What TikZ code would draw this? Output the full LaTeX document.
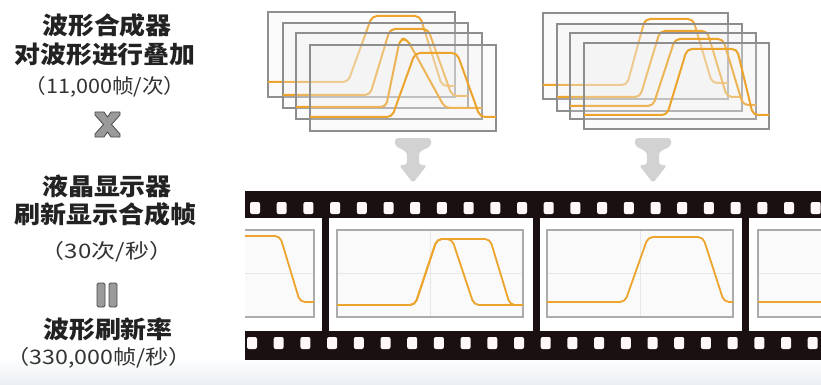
\documentclass[tikz,border=0pt]{standalone}
\usepackage{fontspec}
\setmainfont{Noto Sans CJK SC}
\definecolor{waveor}{HTML}{EDA42C}
\definecolor{boxgray}{HTML}{8E8E8E}
\definecolor{panelgray}{HTML}{ABABAB}
\definecolor{panelfill}{HTML}{FAFAFA}
\definecolor{gridgray}{HTML}{E6E6E6}
\definecolor{filmblack}{HTML}{1A1012}
\definecolor{holewhite}{HTML}{FFF8F8}
\definecolor{arrowgray}{HTML}{D2D2D2}
\definecolor{headcol}{HTML}{222222}
\definecolor{subcol}{HTML}{333333}
\definecolor{bgblue}{HTML}{EAEEF3}
\definecolor{symfill}{HTML}{9A9A9A}
\definecolor{symline}{HTML}{4A4A4A}
\begin{document}
\begin{tikzpicture}[x=1pt,y=-1pt,
  wave/.style={draw=waveor,line width=2pt,rounded corners=5pt,line join=round},
  stackbox/.style={draw=boxgray,line width=1.2pt,fill=white!88!gray,fill opacity=0.22},
  panel/.style={draw=panelgray,line width=1.2pt,fill=panelfill},
  gridln/.style={draw=gridgray,line width=0.7pt},
  hole/.style={fill=holewhite,rounded corners=2pt},
  funnel/.style={fill=arrowgray,rounded corners=3pt},
  headtxt/.style={font=\fontsize{24}{28}\selectfont\bfseries,text=headcol,inner sep=0pt,xscale=1.08},
  subtxt/.style={font=\fontsize{20}{24}\selectfont,text=subcol,inner sep=0pt},
  sym/.style={fill=symfill,draw=symline,line width=0.8pt,line join=round}]
\useasboundingbox (0,0) rectangle (821,385);
\clip (0,0) rectangle (821,385);
\fill[white] (0,0) rectangle (821,385);
\shade[top color=white,bottom color=bgblue] (0,358) rectangle (821,385);

% ---------- left texts ----------
\node[headtxt] (t1) at (107,25) {波形合成器};
\node[headtxt] (t2) at (105,54) {对波形进行叠加};
\node[subtxt,xscale=1.08] (t3) at (105,87) {（11,000帧/次）};
\node[headtxt] (t4) at (107,186) {液晶显示器};
\node[headtxt] (t5) at (105.5,214) {刷新显示合成帧};
\node[subtxt,xscale=1.2] (t6) at (107,252) {（30次/秒）};
\node[headtxt] (t7) at (108,329) {波形刷新率};
\node[subtxt,xscale=1.16] (t8) at (99,358) {（330,000帧/秒）};

% multiplication symbol
\path[sym] (95,112) -- (104,112) -- (107.5,117) -- (111,112) -- (120,112) -- (120,115)
  -- (111.5,124.5) -- (120,134) -- (120,137) -- (111,137) -- (107.5,132) -- (104,137)
  -- (95,137) -- (95,134) -- (103.5,124.5) -- (95,115) -- cycle;
% equals symbol (vertical)
\path[sym,rounded corners=1.5pt] (97,283) rectangle (105,307);
\path[sym,rounded corners=1.5pt] (109,283) rectangle (117,307);

% ---------- top stack 1 ----------
\path[stackbox] (268,12) rectangle (455,97);
\draw[wave] (268,82) -- (348,82) -- (372,16) -- (420,16) -- (442,86) -- (455,86);
\path[stackbox] (283,23) rectangle (468,108);
\draw[wave] (283,95) -- (370,95) -- (390,29) -- (428,29) -- (452,96) -- (468,96);
\path[stackbox] (296,33) rectangle (482,119);
\draw[wave] (296,107) -- (386,107) -- (400,39) -- (407,39) -- (445,108) -- (482,108);
\path[stackbox] (310,45) rectangle (496,131);
\draw[wave] (310,117) -- (392,117) -- (415,53) -- (457,53) -- (480,117) -- (496,117);

% ---------- top stack 2 ----------
\path[stackbox] (543,13) rectangle (728,99);
\draw[wave] (543,85) -- (627,85) -- (645,19) -- (693,19) -- (712,83) -- (728,83);
\path[stackbox] (557,24) rectangle (742,111);
\draw[wave] (557,97) -- (640,97) -- (660,31) -- (707,31) -- (727,97) -- (742,97);
\path[stackbox] (570,33) rectangle (756,119);
\draw[wave] (570,106) -- (653,106) -- (675,39) -- (723,39) -- (743,105) -- (756,105);
\path[stackbox] (584,43) rectangle (769,129);
\draw[wave] (584,115) -- (667,115) -- (687,49) -- (737,49) -- (753,115) -- (769,115);

% ---------- funnel arrows ----------
\foreach \c in {413,653}{
  \fill[funnel] ({\c-18},138) -- ({\c+18},138) -- ({\c+18},146) -- ({\c+6},152)
    -- ({\c+6},165) -- ({\c+14},165) -- (\c,183) -- ({\c-14},165) -- ({\c-6},165)
    -- ({\c-6},152) -- ({\c-18},146) -- cycle;
}

% ---------- film strip ----------
\fill[filmblack] (245,191) rectangle (821,218);
\fill[filmblack] (245,331) rectangle (821,360);
\fill[filmblack] (322,218) rectangle (329,331);
\fill[filmblack] (533,218) rectangle (540,331);
\fill[filmblack] (742,218) rectangle (749,331);
\foreach \i in {0,...,21}{
  \fill[hole] ({250+26.7*\i},202) rectangle ++(10,12);
  \fill[hole] ({247+26.7*\i},337) rectangle ++(10,12);
}

% frame 1 (partial)
\fill[panelfill] (245,230) rectangle (314,317);
\draw[gridln] (245,273) -- (314,273);
\draw[draw=panelgray,line width=1.2pt] (245,230) -- (314,230) -- (314,317) -- (245,317);
\draw[wave,line width=1.8pt] (245,236) -- (280,236) -- (300,302) -- (314,302);

% frame 2
\path[panel] (337,230) rectangle (523,317);
\draw[gridln] (338,273) -- (522,273) (430,231) -- (430,316);
\draw[wave,line width=1.8pt] (337,305) -- (415,305) -- (437,239) -- (452,239) -- (474,305) -- (523,305);
\draw[wave,line width=1.8pt] (337,305) -- (415,305) -- (437,239) -- (490,239) -- (510,305) -- (523,305);

% frame 3
\path[panel] (547,230) rectangle (733,317);
\draw[gridln] (548,273) -- (732,273) (640,231) -- (640,316);
\draw[wave,line width=1.8pt] (547,302) -- (625,302) -- (648,237) -- (703,237) -- (724,302) -- (733,302);

% frame 4 (partial)
\fill[panelfill] (758,230) rectangle (821,317);
\draw[gridln] (759,273) -- (821,273);
\draw[draw=panelgray,line width=1.2pt] (821,230) -- (758,230) -- (758,317) -- (821,317);
\draw[wave,line width=1.8pt] (758,302) -- (821,302);
\end{tikzpicture}
\end{document}
